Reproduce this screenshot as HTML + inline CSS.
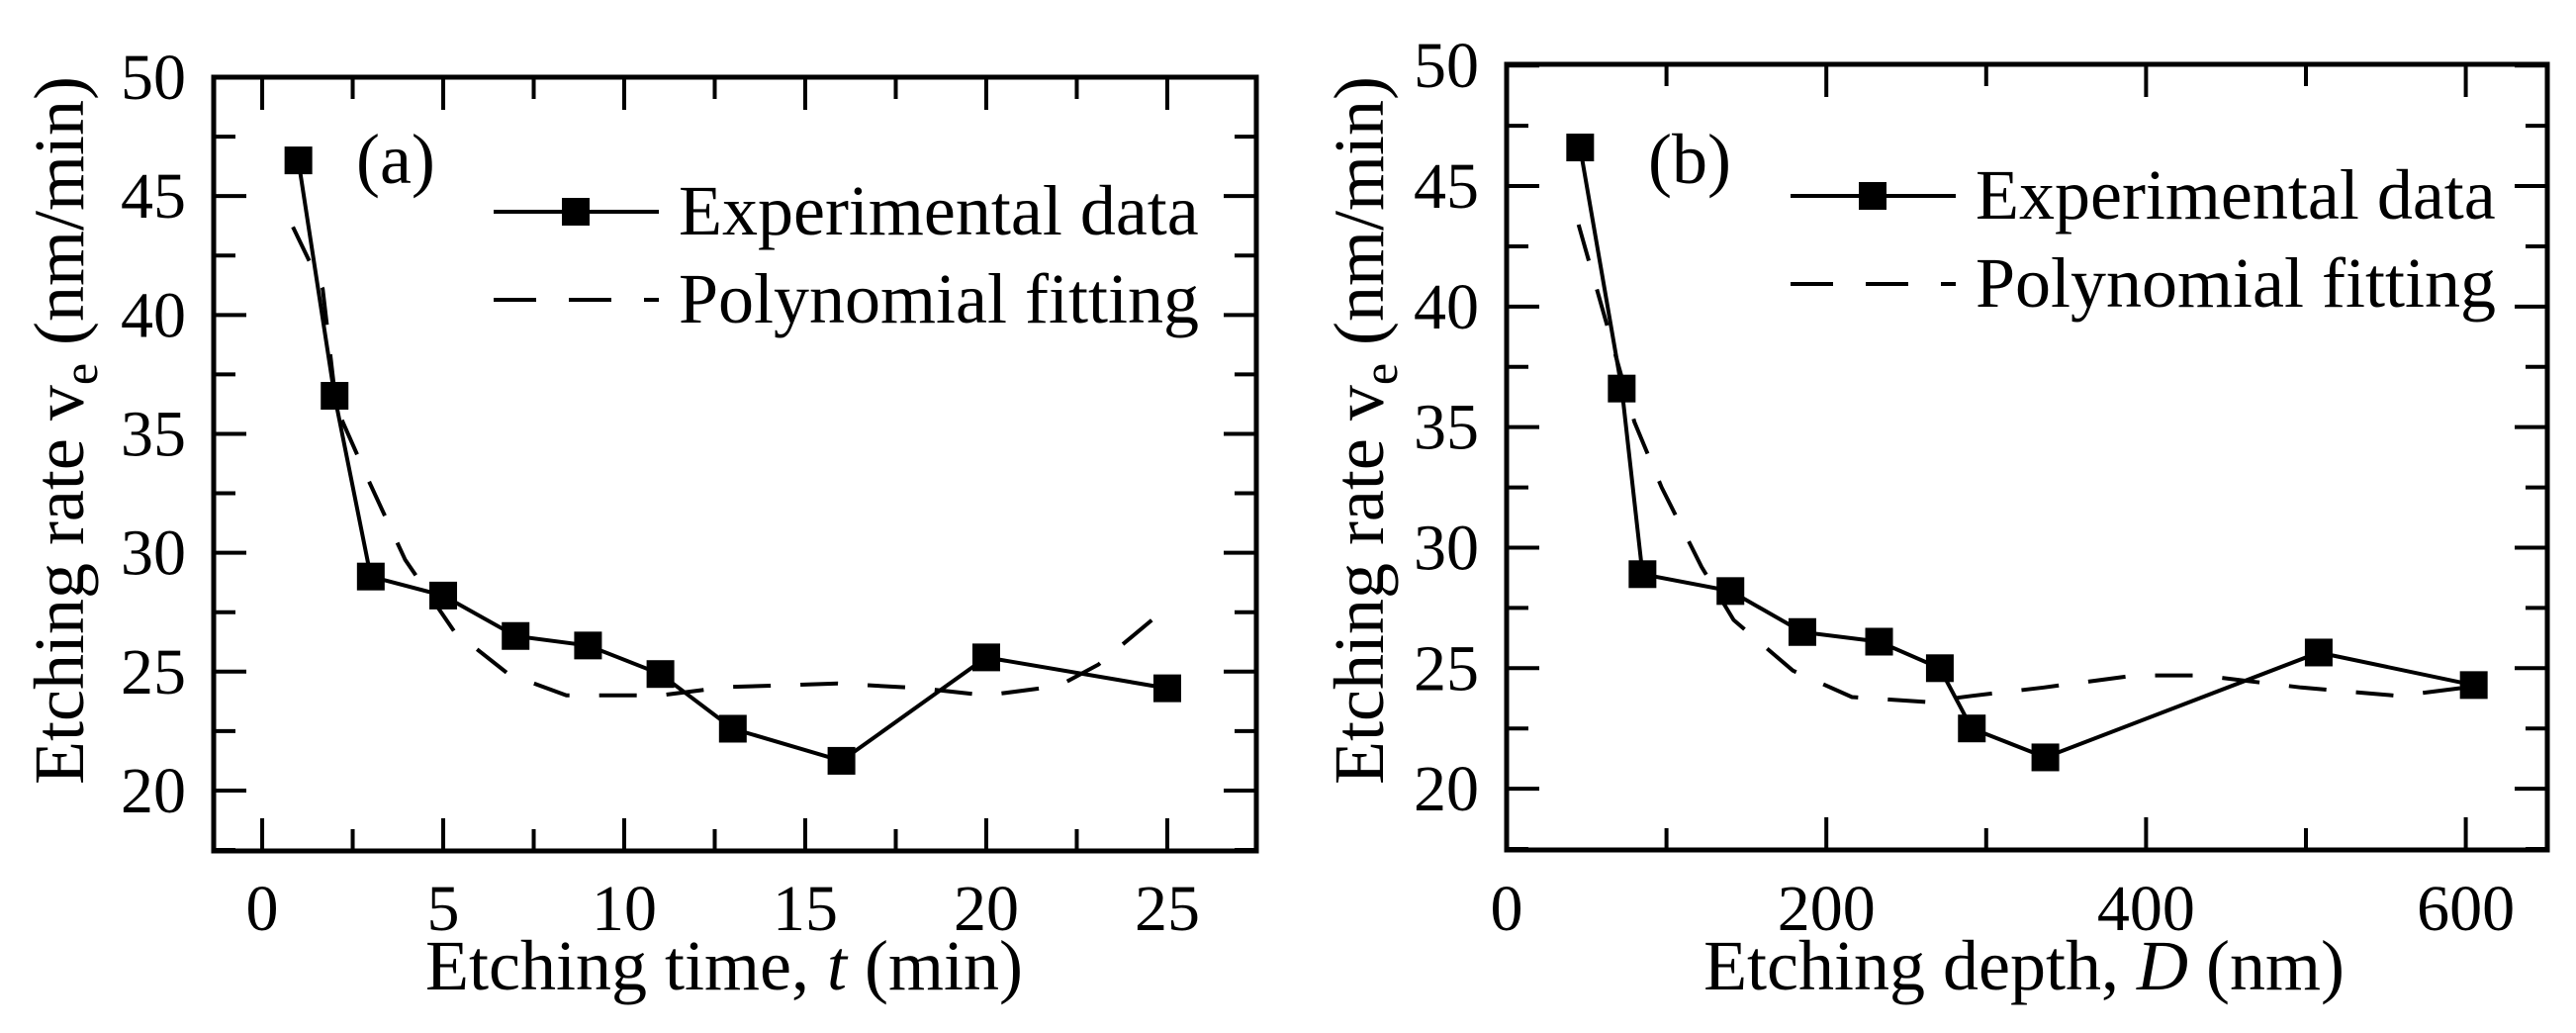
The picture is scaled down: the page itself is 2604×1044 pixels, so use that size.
<!DOCTYPE html>
<html><head><meta charset="utf-8"><style>
html,body{margin:0;padding:0;background:#fff;}
svg{display:block;}
text{font-family:"Liberation Serif",serif;fill:#000;}
</style></head><body>
<svg id="fig" width="2604" height="1044" viewBox="0 0 2604 1044" xmlns="http://www.w3.org/2000/svg"></svg>
<script>
const tA=[1,2,3,5,7,9,11,13,16,20,25];
const vA=[46.5,36.6,29.0,28.2,26.5,26.1,24.9,22.6,21.25,25.6,24.3];
const fitTA=[0.85,1.67,2.05,2.95,3.95,5.3,6.8,8.4,11,12.8,15.9,18.2,20,22,23.1,24.6,25];
const fitVA=[43.7,41.1,36.1,33.0,29.7,26.7,24.9,24.0,24.0,24.35,24.5,24.3,24.0,24.4,25.3,27.2,27.6];
const dB=[46,72,85,140,185,233,271,291,337,508,605];
const vB=[46.6,36.6,28.9,28.2,26.5,26.1,25.0,22.5,21.3,25.65,24.3];
const fitDB=[45,80,97,122,142,179,216,262,291,336,393,435,497,558,612];
const fitVB=[43.4,35.2,32.5,29.2,27.0,24.9,23.8,23.6,23.85,24.2,24.7,24.7,24.2,23.85,24.3];
const yTicks=[20,25,30,35,40,45,50];
const xTicksA=[0,5,10,15,20,25];
const xTicksB=[0,200,400,600];

const NS="http://www.w3.org/2000/svg";
const svg=document.getElementById('fig');
function mk(tag,attrs,parent){const e=document.createElementNS(NS,tag);for(const k in attrs)e.setAttribute(k,attrs[k]);(parent||svg).appendChild(e);return e;}

function panel(cfg){
  const g=mk('g',{});
  
  
  const X=v=>cfg.L+(v-cfg.xmin)/(cfg.xmax-cfg.xmin)*(cfg.R-cfg.L);
  const Y=v=>cfg.B-(v-cfg.ymin)/(cfg.ymax-cfg.ymin)*(cfg.B-cfg.T);
  // ticks
  const tg=mk('g',{stroke:'#000','stroke-width':4},g);
  
  
  for(let v=17.5;v<=50.01;v+=2.5){
    if(v<cfg.ymin-0.01)continue;
    const major=Math.abs(v/5-Math.round(v/5))<0.01;const len=major?33:22;const y=Y(v);
    mk('line',{x1:cfg.L,y1:y,x2:cfg.L+len,y2:y},tg);
    mk('line',{x1:cfg.R,y1:y,x2:cfg.R-len,y2:y},tg);
  }
  for(let v=cfg.xminor0;v<=cfg.xmax;v+=cfg.xminor){
    const major=Math.abs(v/cfg.xmajor-Math.round(v/cfg.xmajor))<0.01;const len=major?33:22;const x=X(v);
    if(x<cfg.L+2||x>cfg.R-2)continue;
    mk('line',{x1:x,y1:cfg.B,x2:x,y2:cfg.B-len},tg);
    mk('line',{x1:x,y1:cfg.T,x2:x,y2:cfg.T+len},tg);
  }
  const fr=mk('rect',{x:cfg.L,y:cfg.T,width:cfg.R-cfg.L,height:cfg.B-cfg.T,fill:'none',stroke:'#000','stroke-width':5},g);
  
  
  yTicks.forEach(v=>{const t=mk('text',{x:cfg.L-28,y:Y(v)+22,'font-size':66,'text-anchor':'end'},g);t.textContent=v;
    
    });
  cfg.xt.forEach(v=>{const t=mk('text',{x:X(v),y:940,'font-size':66,'text-anchor':'middle'},g);t.textContent=v;
    
    });
  // fit
  const fp=cfg.fx.map((v,i)=>X(v).toFixed(1)+','+Y(cfg.fy[i]).toFixed(1)).join(' ');
  const fl=mk('polyline',{points:fp,fill:'none',stroke:'#000','stroke-width':4,'stroke-dasharray':'38 30'},g);
  
  
  const dp=cfg.dx.map((v,i)=>X(v).toFixed(1)+','+Y(cfg.dy[i]).toFixed(1)).join(' ');
  const dl=mk('polyline',{points:dp,fill:'none',stroke:'#000','stroke-width':4},g);
  
  
  cfg.dx.forEach((v,i)=>{const m=mk('rect',{x:X(v)-14,y:Y(cfg.dy[i])-14,width:28,height:28,fill:'#000'},g);
    
    });
  // label
  const lab=mk('text',{x:cfg.labX,y:cfg.labY,'font-size':72},g);lab.textContent=cfg.lab;
  
  
  // legend
  const lg=mk('g',{},g);
  
  
  mk('line',{x1:cfg.legX,y1:cfg.legY,x2:cfg.legX+167,y2:cfg.legY,stroke:'#000','stroke-width':4},lg);
  mk('rect',{x:cfg.legX+83-14,y:cfg.legY-14,width:28,height:28,fill:'#000'},lg);
  const e1=mk('text',{x:cfg.legX+187,y:cfg.legY+23,'font-size':72},lg);e1.textContent='Experimental data';
  
  
  mk('line',{x1:cfg.legX,y1:cfg.legY+89,x2:cfg.legX+167,y2:cfg.legY+89,stroke:'#000','stroke-width':4,'stroke-dasharray':'43 33'},lg);
  const e2=mk('text',{x:cfg.legX+187,y:cfg.legY+112,'font-size':72},lg);e2.textContent='Polynomial fitting';
  
  
  // axis titles
  const xt=mk('text',{x:cfg.xtX,y:1000,'font-size':72,'text-anchor':'middle'},g);
  xt.innerHTML=cfg.xtitle;
  
  
  const yt=mk('text',{x:0,y:0,'font-size':72,'text-anchor':'middle',transform:'translate('+cfg.ytX+',435) rotate(-90)'},g);
  yt.innerHTML='Etching rate v<tspan font-size="50" dy="14">e</tspan><tspan dy="-14"> (nm/min)</tspan>';
  
  
}
panel({name:'panel-a',L:216,R:1270,T:78,B:860,xmin:-1.34,xmax:27.46,ymin:17.46,ymax:50,xminor0:0,xminor:2.5,xmajor:5,
  xt:xTicksA,dx:tA,dy:vA,fx:fitTA,fy:fitVA,lab:'(a)',labX:360,labY:185,legX:499,legY:214,
  xtX:732,xtitle:'Etching time, <tspan font-style="italic">t</tspan> (min)',ytX:84});
panel({name:'panel-b',L:1523,R:2575,T:65,B:859,xmin:0,xmax:651,ymin:17.46,ymax:50.05,xminor0:0,xminor:100,xmajor:200,
  xt:xTicksB,dx:dB,dy:vB,fx:fitDB,fy:fitVB,lab:'(b)',labX:1666,labY:185,legX:1810,legY:198,
  xtX:2046,xtitle:'Etching depth, <tspan font-style="italic">D</tspan> (nm)',ytX:1398});
</script>
</body></html>
